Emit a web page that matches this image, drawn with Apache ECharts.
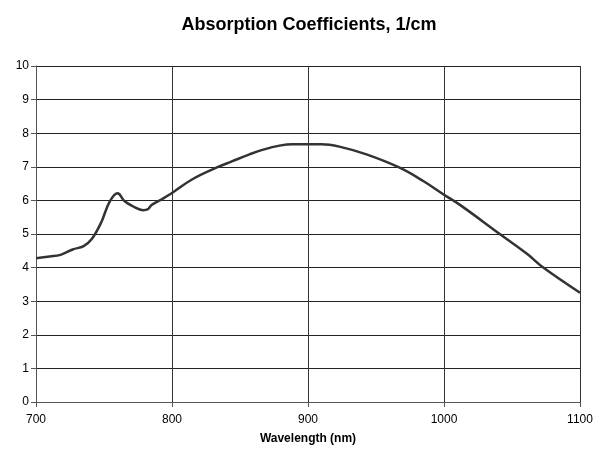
<!DOCTYPE html>
<html>
<head>
<meta charset="utf-8">
<script src="https://cdn.jsdelivr.net/npm/echarts@6/dist/echarts.min.js"></script>
<style>
  html, body { margin: 0; padding: 0; background: #fff; }
  #chart { width: 602px; height: 450px; }
</style>
</head>
<body>
<div id="chart"></div>
<script>
// wavelength (nm) and absorption coefficient (1/cm)
const wavelengths = [700, 710, 718, 727, 735, 741, 748, 754, 760, 765, 771, 779, 782, 785, 791, 800,
  815, 833, 844, 857, 867, 879, 889, 910, 923, 943, 967, 985, 1000, 1012, 1041, 1061, 1073, 1100];
const coefficients = [4.28, 4.33, 4.38, 4.54, 4.64, 4.85, 5.35, 5.95, 6.21, 5.98, 5.83, 5.71, 5.73, 5.86, 6.0, 6.22,
  6.63, 6.98, 7.16, 7.37, 7.51, 7.63, 7.67, 7.67, 7.60, 7.37, 6.98, 6.57, 6.17, 5.86, 5.0, 4.41, 4.0, 3.25];

const chart = echarts.init(document.getElementById("chart"));
const font = "'Liberation Sans', Arial, sans-serif";

const options = {
  animation: false,
  title: {
    text: "Absorption Coefficients, 1/cm",
    left: 304,
    top: 11,
    textAlign: "center",
    textStyle: { fontFamily: font, fontSize: 18, fontWeight: "bold", color: "#000" },
  },
  grid: { left: 36, right: 22, top: 66, bottom: 46 },
  xAxis: {
    type: "value",
    min: 700,
    max: 1100,
    interval: 100,
    name: "Wavelength (nm)",
    nameLocation: "middle",
    nameGap: 31,
    nameTextStyle: { fontFamily: font, fontSize: 12, fontWeight: "bold", color: "#000" },
    axisLine: { lineStyle: { color: "#555", width: 1 } },
    axisTick: { show: true, length: 5, lineStyle: { color: "#555" } },
    axisLabel: { fontFamily: font, fontSize: 12, color: "#000", margin: 12, formatter: (v) => String(v) },
    splitLine: { show: true, lineStyle: { color: "#333", width: 1 } },
  },
  yAxis: {
    type: "value",
    min: 0,
    max: 10,
    interval: 1,
    axisLine: { show: true, lineStyle: { color: "#555", width: 1 } },
    axisTick: { show: true, length: 5, lineStyle: { color: "#555" } },
    axisLabel: { fontFamily: font, fontSize: 12, color: "#000", margin: 7 },
    splitLine: { show: true, lineStyle: { color: "#222", width: 1 } },
  },
  series: [
    {
      type: "line",
      data: wavelengths.map((w, i) => [w, coefficients[i]]),
      smooth: 0.4,
      showSymbol: false,
      lineStyle: { color: "#333", width: 2.5 },
    },
  ],
};

chart.setOption(options);
</script>
</body>
</html>
